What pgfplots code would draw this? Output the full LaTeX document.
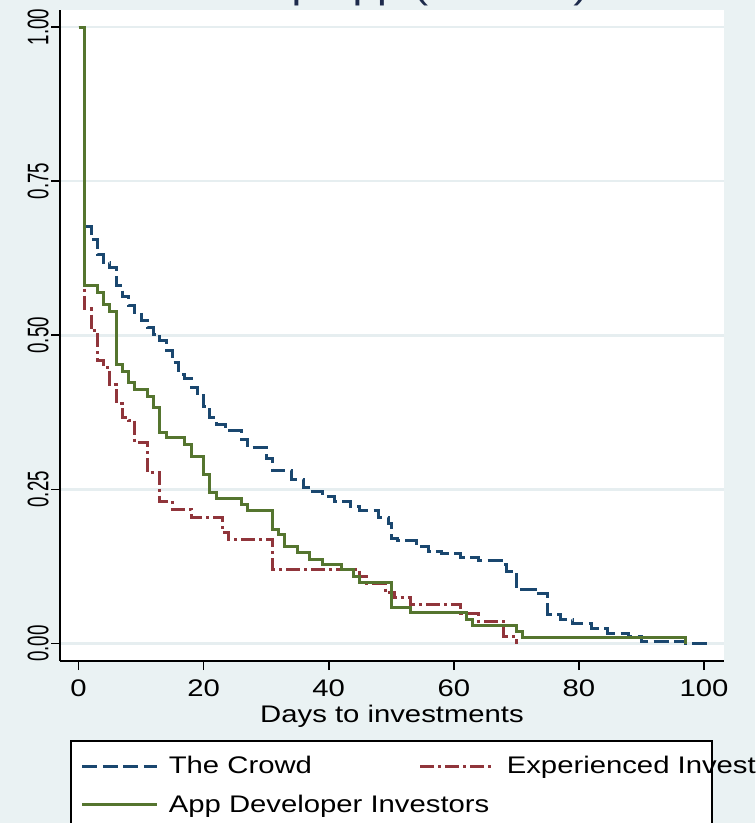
\documentclass[border=0pt]{standalone}
\usepackage{pgfplots}
\pgfplotsset{compat=1.18}
\usepackage{fontspec}
\setmainfont{Liberation Sans}[FakeStretch=1.22]
\newfontfamily\plainfont{Liberation Sans}
\definecolor{sbg}{HTML}{EAF2F3}
\definecolor{snavy}{HTML}{1A476F}
\definecolor{smaroon}{HTML}{90353B}
\definecolor{sgreen}{HTML}{55752F}
\definecolor{sgrid}{HTML}{E6EEF0}
\definecolor{stitle}{HTML}{1E2B4C}
\begin{document}
\begin{tikzpicture}
\useasboundingbox (0,0) rectangle (377.5pt,-411.5pt);
\fill[sbg] (0,0) rectangle (377.5pt,-411.5pt);
\node[anchor=base west, text=stitle, font=\fontsize{18}{20}\selectfont, inner sep=0pt] at (87pt,0.8pt) {Startup app (Overall\,)};
\begin{axis}[
  at={(30pt,-330.5pt)}, anchor=south west,
  scale only axis, width=332pt, height=325.5pt,
  xmin=-2.96, xmax=103.2, ymin=-0.0284, ymax=1.0276,
  axis background/.style={fill=white},
  axis x line*=bottom, axis y line*=left,
  axis line style={line width=0.8pt, black},
  xtick={0,20,40,60,80,100},
  ytick={0,0.25,0.5,0.75,1},
  tick align=outside, major tick length=4.5pt,
  tick style={line width=0.8pt, black},
  minor tick num=0,
  ymajorgrids, xmajorgrids=false,
  major grid style={sgrid, line width=1.3pt},
  /pgf/number format/assume math mode=true,
  xticklabel style={font=\fontsize{12}{14}\selectfont, anchor=north, inner sep=0pt},
  xticklabel shift=4.5pt,
  yticklabel style={font=\plainfont\fontsize{12}{14}\selectfont, rotate=90, anchor=south, inner sep=0pt},
  yticklabel shift=1pt,
  yticklabel={\scalebox{0.78}[1.24]{\pgfmathprintnumber[fixed,fixed zerofill,precision=2]{\tick}}},
  xlabel={Days to investments},
  xlabel style={font=\fontsize{12}{14}\selectfont, at={(axis description cs:0.5,0)}, anchor=north, inner sep=0pt, yshift=-22pt},
  legend columns=2, legend cell align=left,
  legend image code/.code={\draw[#1] (0pt,0pt) -- (37.5pt,0pt);},
  legend style={at={(axis description cs:0.01506,-0.1214)}, anchor=north west,
    draw=black, line width=0.8pt, fill=white, inner xsep=5pt, inner ysep=6.5pt,
    column sep=5pt, row sep=6.75pt, font=\fontsize{12}{14}\selectfont,
    nodes={inner sep=0pt, text height=10pt, text depth=2.5pt}},
]
\addplot[const plot, snavy, line width=1.5pt, dash pattern=on 7.5pt off 2.75pt] coordinates {
(0,1.0) (1,0.677) (2,0.656) (3,0.631) (4,0.618) (5,0.610) (6,0.580) (7,0.563) (8,0.548) (9,0.537) (10,0.524) (11,0.513) (12,0.502) (13,0.492) (14,0.475) (15,0.456) (16,0.437) (17,0.430) (18,0.416) (19,0.402) (20,0.385) (21,0.366) (22,0.355) (23.5,0.345) (26,0.331) (27,0.318) (30,0.300) (31,0.280) (34,0.266) (36,0.253) (37,0.247) (39,0.239) (41,0.231) (43.5,0.222) (45,0.215) (48,0.205) (49.5,0.195) (50,0.171) (51,0.167) (54,0.158) (56,0.150) (58,0.146) (61,0.139) (64,0.134) (68,0.128) (68.5,0.117) (70,0.087) (73,0.081) (75,0.047) (77,0.039) (79,0.032) (82,0.024) (84.5,0.017) (88,0.012) (90,0.004) (97,0.0) (100.5,0.0)
};
\addlegendentry{\makebox[120pt][l]{The Crowd}}
\addplot[const plot, smaroon, line width=1.5pt, dash pattern=on 7pt off 2pt on 1.5pt off 2pt] coordinates {
(0,1.0) (1,0.543) (2,0.507) (3,0.459) (4,0.448) (5,0.420) (6,0.389) (7,0.367) (8,0.362) (9,0.326) (11,0.277) (13,0.231) (15,0.218) (18,0.205) (23,0.180) (24,0.169) (31,0.120) (45,0.109) (46,0.098) (49,0.082) (50.5,0.074) (53,0.063) (61,0.048) (64,0.036) (68,0.012) (70,0.0)
};
\addlegendentry{\makebox[97.5pt][l]{Experienced Investors}}
\addplot[const plot, sgreen, line width=1.5pt] coordinates {
(0,1.0) (1,0.580) (3,0.569) (4,0.550) (5,0.539) (6,0.453) (7,0.442) (8,0.423) (9,0.412) (11,0.401) (12,0.383) (13,0.342) (14,0.334) (17,0.323) (18,0.304) (20,0.274) (21,0.245) (22,0.236) (26,0.226) (27,0.215) (31,0.185) (32,0.177) (33,0.158) (35,0.147) (37,0.136) (39,0.128) (42,0.120) (44,0.109) (45,0.099) (50,0.058) (53,0.050) (62,0.039) (63,0.029) (70,0.020) (71,0.0093) (97,0.0)
};
\addlegendentry{\makebox[120pt][l]{App Developer Investors}}
\end{axis}
\end{tikzpicture}
\end{document}
